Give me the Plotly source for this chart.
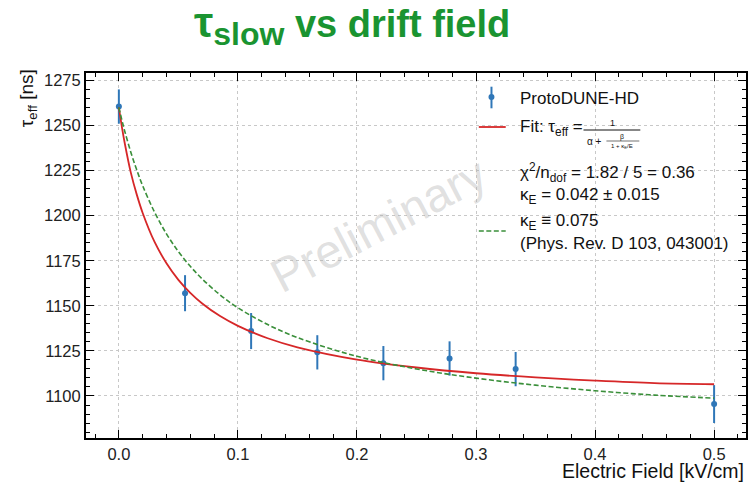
import plotly.graph_objects as go

# ---------------- data ----------------
field_kv_cm = [0.0, 0.0556, 0.1111, 0.1667, 0.2222, 0.2778, 0.3333, 0.5]
tau_eff_ns = [1260.5, 1157.0, 1136.0, 1124.2, 1118.2, 1120.8, 1114.9, 1095.5]
tau_err_ns = [9.5, 10.0, 10.0, 9.5, 9.5, 9.5, 9.5, 10.5]

curve_field = [0.0, 0.0025, 0.005, 0.01, 0.015, 0.02, 0.03, 0.04, 0.05, 0.06,
               0.07, 0.085, 0.1, 0.125, 0.15, 0.2, 0.25, 0.3, 0.35, 0.4, 0.45, 0.5]
fit_tau = [1260.0, 1249.4, 1240.0, 1224.0, 1211.8, 1201.5, 1185.4, 1173.6, 1164.4, 1157.2,
           1151.3, 1144.3, 1138.9, 1132.0, 1127.0, 1120.2, 1115.8, 1112.6, 1110.3, 1108.5, 1107.1, 1106.5]
ref_tau = [1260.0, 1253.1, 1246.7, 1235.3, 1225.4, 1216.6, 1201.9, 1189.9, 1180.1, 1171.9,
           1164.9, 1156.1, 1148.9, 1139.6, 1132.4, 1122.0, 1115.0, 1109.9, 1106.0, 1102.9, 1100.5, 1098.8]

x_ticks = [0.0, 0.1, 0.2, 0.3, 0.4, 0.5]
y_ticks = [1100, 1125, 1150, 1175, 1200, 1225, 1250, 1275]

# ---------------- layout geometry ----------------
W, H = 755, 483
L, R, T, B = 86, 7, 73, 45
PW = W - L - R
PH = H - T - B


def px(x):
    return (x - L) / PW


def py(y):
    return (H - B - y) / PH


FONT = "Liberation Sans, Arial, Helvetica, sans-serif"
BLUE = "#2f77b8"
RED = "#d62728"
GREEN = "#3a8f3a"
TITLE_GREEN = "#1a9431"

fig = go.Figure()

fig.add_trace(go.Scatter(
    x=field_kv_cm, y=tau_eff_ns, mode="markers",
    marker=dict(size=6, color=BLUE),
    error_y=dict(type="data", array=tau_err_ns, color=BLUE, thickness=2, width=0),
    showlegend=False,
))
fig.add_trace(go.Scatter(
    x=curve_field, y=fit_tau, mode="lines", line=dict(color=RED, width=1.8, shape="spline"),
    showlegend=False,
))
fig.add_trace(go.Scatter(
    x=curve_field, y=ref_tau, mode="lines",
    line=dict(color=GREEN, width=1.6, dash="5px,2.5px", shape="spline"),
    showlegend=False,
))

axis_common = dict(
    showline=True, linewidth=2, linecolor="black", mirror="allticks",
    ticks="inside", ticklen=8, tickwidth=1, tickcolor="black",
    showgrid=True, gridcolor="#c8c8c8", griddash="dot", gridwidth=1,
    zeroline=False,
    tickfont=dict(family=FONT, size=16.5, color="#222"),
)

fig.update_xaxes(
    range=[-0.0276, 0.5268], tickvals=x_ticks, ticktext=[f"{v:.1f}" for v in x_ticks],
    minor=dict(dtick=0.02, tick0=0, ticks="inside", ticklen=4, tickcolor="black", showgrid=False),
    **axis_common,
)
fig.update_yaxes(
    range=[1076.7, 1279.1], tickvals=y_ticks, ticktext=[str(v) for v in y_ticks],
    minor=dict(dtick=5, tick0=1100, ticks="inside", ticklen=4, tickcolor="black", showgrid=False),
    **axis_common,
)

ann = []
shapes = []

# title
ann.append(dict(
    xref="paper", yref="paper", x=px(192), y=py(25), xanchor="left", yanchor="middle",
    text='<b><span style="font-size:43px">τ</span><sub><span style="font-size:32px">slow</span></sub> vs drift field</b>',
    showarrow=False, font=dict(family=FONT, size=38, color=TITLE_GREEN),
))

# axis titles
ann.append(dict(
    xref="paper", yref="paper", x=px(748), y=py(471), xanchor="right", yanchor="middle",
    text="Electric Field [kV/cm]", showarrow=False,
    font=dict(family=FONT, size=19.5, color="#111"),
))
ann.append(dict(
    xref="paper", yref="paper", x=px(28), y=py(67), xanchor="center", yanchor="top",
    text="τ<sub>eff</sub> [ns]", textangle=-90, showarrow=False,
    font=dict(family=FONT, size=19, color="#111"),
))

# watermark
ann.append(dict(
    xref="paper", yref="paper", x=px(380), y=py(225), xanchor="center", yanchor="middle",
    text="Preliminary", textangle=-27.5, showarrow=False,
    font=dict(family=FONT, size=47, color="rgba(175,175,175,0.40)"),
))

# ---- legend (drawn manually) ----
LEG = dict(family=FONT, size=17, color="#111")
TX = px(519)

# data entry
shapes.append(dict(type="line", xref="paper", yref="paper",
                   x0=px(492.7), x1=px(492.7), y0=py(86.7), y1=py(108.3),
                   line=dict(color=BLUE, width=2)))
shapes.append(dict(type="circle", xref="paper", yref="paper",
                   x0=px(489.7), x1=px(495.7), y0=py(100), y1=py(94),
                   fillcolor=BLUE, line=dict(color=BLUE, width=0)))
ann.append(dict(xref="paper", yref="paper", x=TX, y=py(98), xanchor="left", yanchor="middle",
                text="ProtoDUNE-HD", showarrow=False, font=LEG))

# fit entry
shapes.append(dict(type="line", xref="paper", yref="paper",
                   x0=px(480), x1=px(507), y0=py(127), y1=py(127),
                   line=dict(color=RED, width=1.8)))
ann.append(dict(xref="paper", yref="paper", x=TX, y=py(128), xanchor="left", yanchor="middle",
                text="Fit: τ<sub>eff</sub> =", showarrow=False, font=LEG))
# fraction
shapes.append(dict(type="line", xref="paper", yref="paper",
                   x0=px(585), x1=px(642), y0=py(130), y1=py(130),
                   line=dict(color="#111", width=1)))
ann.append(dict(xref="paper", yref="paper", x=px(614), y=py(123), xanchor="center", yanchor="middle",
                text="1", showarrow=False, font=dict(family=FONT, size=9, color="#111")))
ann.append(dict(xref="paper", yref="paper", x=px(587), y=py(141), xanchor="left", yanchor="middle",
                text="α +", showarrow=False, font=dict(family=FONT, size=10, color="#111")))
shapes.append(dict(type="line", xref="paper", yref="paper",
                   x0=px(608), x1=px(641), y0=py(141), y1=py(141),
                   line=dict(color="#111", width=0.6)))
ann.append(dict(xref="paper", yref="paper", x=px(624), y=py(136.5), xanchor="center", yanchor="middle",
                text="β", showarrow=False, font=dict(family=FONT, size=7, color="#111")))
ann.append(dict(xref="paper", yref="paper", x=px(624), y=py(146), xanchor="center", yanchor="middle",
                text="1 + κ<sub>E</sub>/E", showarrow=False, font=dict(family=FONT, size=6, color="#111")))

ann.append(dict(xref="paper", yref="paper", x=TX, y=py(172), xanchor="left", yanchor="middle",
                text="χ<sup>2</sup>/n<sub>dof</sub> = 1.82 / 5 = 0.36", showarrow=False, font=LEG))
ann.append(dict(xref="paper", yref="paper", x=TX, y=py(196), xanchor="left", yanchor="middle",
                text="κ<sub>E</sub> = 0.042 ± 0.015", showarrow=False, font=LEG))

# reference entry
shapes.append(dict(type="line", xref="paper", yref="paper",
                   x0=px(480), x1=px(507), y0=py(231), y1=py(231),
                   line=dict(color=GREEN, width=1.6, dash="5px,2.5px")))
ann.append(dict(xref="paper", yref="paper", x=TX, y=py(222), xanchor="left", yanchor="middle",
                text="κ<sub>E</sub> ≡ 0.075", showarrow=False, font=LEG))
ann.append(dict(xref="paper", yref="paper", x=TX, y=py(243), xanchor="left", yanchor="middle",
                text="(Phys. Rev. D 103, 043001)", showarrow=False, font=LEG))

fig.update_layout(
    width=W, height=H,
    margin=dict(l=L, r=R, t=T, b=B, pad=0),
    paper_bgcolor="white", plot_bgcolor="white",
    showlegend=False,
    annotations=ann, shapes=shapes,
    font=dict(family=FONT),
)

fig.write_html(
    "out.html",
    config={"displayModeBar": False},
    post_script="document.body.style.margin='0';document.body.style.padding='0';"
                "document.body.style.overflow='hidden';",
)
